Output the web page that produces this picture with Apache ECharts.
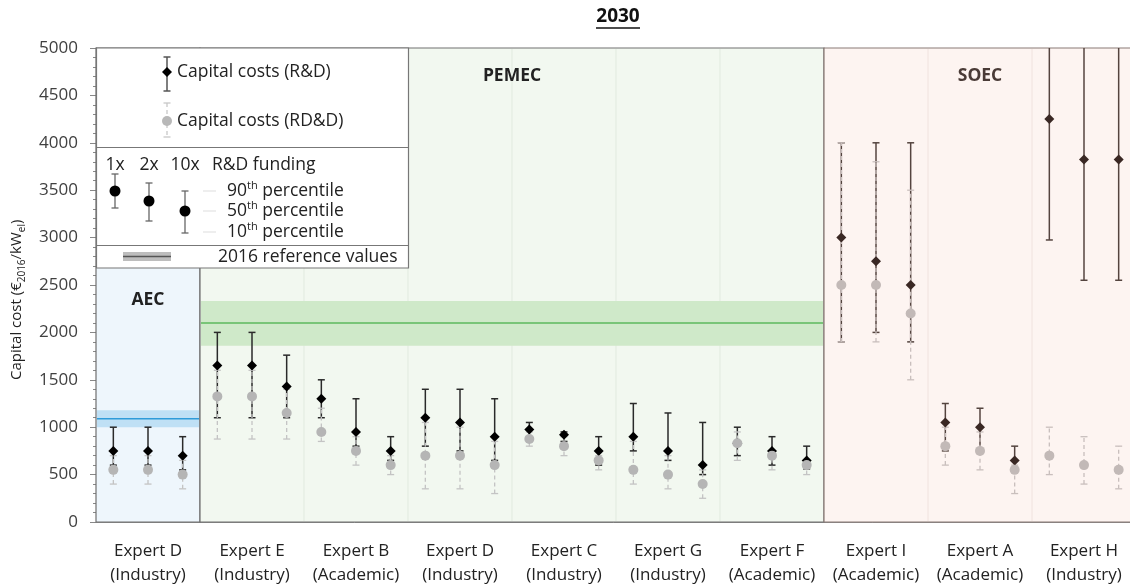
<!DOCTYPE html>
<html><head><meta charset="utf-8">
<script src="https://cdn.jsdelivr.net/npm/echarts@6/dist/echarts.min.js"></script>
<style>html,body{margin:0;padding:0;background:#fff}#chart{width:1130px;height:586px}</style>
</head><body><div id="chart"></div>
<script>
// ---- data ----
const groupLabels = ['Expert D\n(Industry)','Expert E\n(Industry)','Expert B\n(Academic)','Expert D\n(Industry)','Expert C\n(Industry)','Expert G\n(Industry)','Expert F\n(Academic)','Expert I\n(Academic)','Expert A\n(Academic)','Expert H\n(Industry)'];
const fundingLevels = ['1x','2x','10x'];
const regionNames = ['AEC','PEMEC','SOEC'];
const regionFirstGroup = [0,1,7];
const regionLastGroup = [0,6,9];
const refLow = [1000,1860];
const refMid = [1090,2100];
const refHigh = [1180,2330];
const yMin = 0, yMax = 5000, yStep = 500;
// R&D (10th / 50th / 90th percentile)
const rdP10 = [600,600,550, 1100,1100,1100, 1100,800,650, 800,750,650, 900,850,600, 750,650,500, 700,600,560, 1900,2000,1900, 750,750,550, 2975,2550,2550];
const rdP50 = [750,750,700, 1650,1650,1430, 1300,950,750, 1100,1050,900, 975,920,750, 900,750,600, 830,750,650, 3000,2750,2500, 1050,1000,650, 4250,3825,3825];
const rdP90 = [1000,1000,900, 2000,2000,1760, 1500,1300,900, 1400,1400,1300, 1050,950,900, 1250,1150,1050, 1000,900,800, 4000,4000,4000, 1250,1200,800, 5600,5600,5600];
// RD&D (10th / 50th / 90th percentile)
const rddP10 = [400,400,350, 875,875,875, 850,600,500, 350,350,300, 800,700,550, 400,350,250, 650,550,500, 1900,1900,1500, 600,550,300, 500,400,350];
const rddP50 = [550,550,500, 1325,1325,1150, 950,750,600, 700,700,600, 875,800,650, 550,500,400, 830,700,600, 2500,2500,2200, 800,750,550, 700,600,550];
const rddP90 = [700,700,650, 1600,1600,1400, 1200,900,700, 1050,1000,850, 950,900,700, 850,700,550, 950,750,650, 4000,3800,3500, 1000,950,600, 1000,900,800];

// ---- build ----
const pointIds = [];
groupLabels.forEach((g, gi) => fundingLevels.forEach(f => pointIds.push(gi + '-' + f)));
const FONT = '"Open Sans", sans-serif';
const LF = '17.5px ' + FONT;
const isSoec = i => Math.floor(i / 3) >= regionFirstGroup[2];

function whisker(color, soecColor, dash, lw) {
  return function (params, api) {
    const i = api.value(0);
    const lo = api.coord([i, api.value(1)]);
    const hi = api.coord([i, api.value(3)]);
    const c = isSoec(i) ? soecColor : color;
    const cap = 3.5;
    return { type: 'group', children: [
      { type: 'line', shape: { x1: lo[0], y1: lo[1], x2: hi[0], y2: hi[1] }, style: { stroke: c, lineWidth: lw, lineDash: dash } },
      { type: 'line', shape: { x1: lo[0] - cap, y1: lo[1], x2: lo[0] + cap, y2: lo[1] }, style: { stroke: c, lineWidth: lw } },
      { type: 'line', shape: { x1: hi[0] - cap, y1: hi[1], x2: hi[0] + cap, y2: hi[1] }, style: { stroke: c, lineWidth: lw } }
    ]};
  };
}

const regionFill = ['#eef6fc', '#f2f8f0', '#fdf4f1'];
const regionStroke = ['#707070', '#707070', '#8a7a76'];
const regionInner = ['#dde8f0', '#e1eadf', '#f0e2de'];
const regionLabelColor = ['#222', '#222', '#4a3b37'];
const regionLabelVal = [2340, 4700, 4700];

const option = {
  animation: false,
  grid: { left: 96, width: 1040, top: 48, bottom: 64, containLabel: false, outerBoundsMode: 'none' },
  xAxis: [
    { type: 'category', data: pointIds, boundaryGap: true, show: false, position: 'bottom' },
    { type: 'category', data: groupLabels, boundaryGap: true, position: 'bottom',
      axisLine: { show: true, lineStyle: { color: '#888', width: 1 } },
      axisTick: { show: false },
      axisLabel: { fontFamily: FONT, fontSize: 17, color: '#222', lineHeight: 24, margin: 17, interval: 0 } }
  ],
  yAxis: {
    type: 'value', min: yMin, max: yMax, interval: yStep,
    axisLine: { show: true, lineStyle: { color: '#888' } },
    axisTick: { show: true, length: 6, lineStyle: { color: '#888' } },
    minorTick: { show: true, splitNumber: 5, length: 3, lineStyle: { color: '#888' } },
    splitLine: { show: false },
    axisLabel: { fontFamily: FONT, fontSize: 17, color: '#404040', margin: 18, formatter: v => String(v) }
  },
  series: [
    { // technology regions
      type: 'custom', z: 1, silent: true, clip: false,
      encode: { x: 0, y: 2 },
      data: regionNames.map((n, r) => [regionFirstGroup[r] * 3, regionLastGroup[r] * 3 + 2, r]),
      renderItem: function (params, api) {
        const s = api.value(0), e = api.value(1), r = api.value(2);
        const bw = api.size([1, 0])[0];
        const x0 = api.coord([s, yMin])[0] - bw / 2;
        const x1 = api.coord([e, yMin])[0] + bw / 2;
        const yb = api.coord([s, yMin])[1], yt = api.coord([s, yMax])[1];
        const children = [
          { type: 'rect', shape: { x: x0, y: yt, width: x1 - x0, height: yb - yt }, style: { fill: regionFill[r], stroke: regionStroke[r], lineWidth: 1.2 } }
        ];
        for (let g = regionFirstGroup[r] + 1; g <= regionLastGroup[r]; g++) {
          const xg = api.coord([g * 3, yMin])[0] - bw / 2;
          children.push({ type: 'line', shape: { x1: xg, y1: yt + 1, x2: xg, y2: yb - 1 }, style: { stroke: regionInner[r], lineWidth: 1 } });
        }
        const ly = api.coord([s, regionLabelVal[r]])[1];
        children.push({ type: 'text', style: { text: regionNames[r], x: (x0 + x1) / 2, y: ly, align: 'center', verticalAlign: 'middle',
          font: 'bold 17.5px ' + FONT, fill: regionLabelColor[r] } });
        return { type: 'group', children };
      }
    },
    { // 2016 reference values
      type: 'custom', z: 2, silent: true, clip: true,
      encode: { x: 0, y: [2, 3, 4] },
      data: refLow.map((v, r) => [regionFirstGroup[r] * 3, regionLastGroup[r] * 3 + 2, v, refMid[r], refHigh[r], r]),
      renderItem: function (params, api) {
        const s = api.value(0), e = api.value(1), r = api.value(5);
        const bw = api.size([1, 0])[0];
        const x0 = api.coord([s, 0])[0] - bw / 2 + 1;
        const x1 = api.coord([e, 0])[0] + bw / 2 - 1;
        const yl = api.coord([s, api.value(2)])[1];
        const ym = api.coord([s, api.value(3)])[1];
        const yh = api.coord([s, api.value(4)])[1];
        const band = r === 0 ? '#bfe0f5' : '#cfe9c9';
        const line = r === 0 ? '#2f9bd9' : '#5cb85c';
        return { type: 'group', children: [
          { type: 'rect', shape: { x: x0, y: yh, width: x1 - x0, height: yl - yh }, style: { fill: band } },
          { type: 'line', shape: { x1: x0, y1: ym, x2: x1, y2: ym }, style: { stroke: line, lineWidth: 1.5 } }
        ]};
      }
    },
    { name: 'Capital costs (R&D) range', type: 'custom', z: 3, clip: true,
      encode: { x: 0, y: [1, 2, 3] },
      data: rdP10.map((v, i) => [i, v, rdP50[i], rdP90[i]]),
      renderItem: whisker('#2a2a2a', '#54443f', null, 1.5) },
    { name: 'Capital costs (RD&D) range', type: 'custom', z: 4, clip: true,
      encode: { x: 0, y: [1, 2, 3] },
      data: rddP10.map((v, i) => [i, v, rddP50[i], rddP90[i]]),
      renderItem: whisker('#c4c4c4', '#c9bfbd', [4, 3], 1.3) },
    { name: 'Capital costs (R&D)', type: 'scatter', z: 5, symbol: 'diamond', symbolSize: 10,
      data: rdP50.map((v, i) => [i, v]),
      itemStyle: { opacity: 1, color: p => isSoec(p.dataIndex) ? '#3a2824' : '#000' } },
    { name: 'Capital costs (RD&D)', type: 'scatter', z: 6, symbol: 'circle', symbolSize: 10,
      data: rddP50.map((v, i) => [i, v]),
      itemStyle: { opacity: 1, color: p => isSoec(p.dataIndex) ? '#c2b9b7' : '#b5b5b5' } }
  ],
  graphic: { elements: [
    // title
    { type: 'text', z: 100, style: { text: '2030', x: 618, y: 17, align: 'center', verticalAlign: 'middle', font: 'bold 19px ' + FONT, fill: '#111' } },
    { type: 'line', z: 100, shape: { x1: 596, y1: 28, x2: 640, y2: 28 }, style: { stroke: '#111', lineWidth: 1.3 } },
    // y axis title (starts at bottom, reads upward)
    { type: 'text', z: 100, x: 17, y: 380, rotation: Math.PI / 2, style: {
      text: '{a|Capital cost (€}{s|2016}{a|/kW}{s|el}{a|)}', align: 'left', verticalAlign: 'middle',
      rich: { a: { font: '15px ' + FONT, fill: '#222', lineHeight: 20 },
              s: { font: '10px ' + FONT, fill: '#222', lineHeight: 12, verticalAlign: 'bottom' } } } },
    // legend box
    { type: 'rect', z: 100, shape: { x: 96.5, y: 48, width: 312, height: 220 }, style: { fill: '#fff', stroke: '#777', lineWidth: 1.2 } },
    { type: 'line', z: 100, shape: { x1: 96.5, y1: 147.5, x2: 408.5, y2: 147.5 }, style: { stroke: '#777', lineWidth: 1.2 } },
    { type: 'line', z: 100, shape: { x1: 96.5, y1: 245.5, x2: 408.5, y2: 245.5 }, style: { stroke: '#777', lineWidth: 1.2 } },
    // entry R&D
    { type: 'line', z: 101, shape: { x1: 167, y1: 57, x2: 167, y2: 91 }, style: { stroke: '#555', lineWidth: 1.5 } },
    { type: 'line', z: 101, shape: { x1: 163.5, y1: 57, x2: 170.5, y2: 57 }, style: { stroke: '#555', lineWidth: 1.5 } },
    { type: 'line', z: 101, shape: { x1: 163.5, y1: 91, x2: 170.5, y2: 91 }, style: { stroke: '#555', lineWidth: 1.5 } },
    { type: 'polygon', z: 102, shape: { points: [[167, 67], [172, 72], [167, 77], [162, 72]] }, style: { fill: '#000' } },
    { type: 'text', z: 101, style: { text: 'Capital costs (R&D)', x: 177, y: 72, verticalAlign: 'middle', font: LF, fill: '#222' } },
    // entry RD&D
    { type: 'line', z: 101, shape: { x1: 167, y1: 103, x2: 167, y2: 137 }, style: { stroke: '#c8c8c8', lineWidth: 1.3, lineDash: [4, 3] } },
    { type: 'line', z: 101, shape: { x1: 163.5, y1: 103, x2: 170.5, y2: 103 }, style: { stroke: '#c8c8c8', lineWidth: 1.3 } },
    { type: 'line', z: 101, shape: { x1: 163.5, y1: 137, x2: 170.5, y2: 137 }, style: { stroke: '#c8c8c8', lineWidth: 1.3 } },
    { type: 'circle', z: 102, shape: { cx: 167, cy: 121, r: 5 }, style: { fill: '#b8b8b8' } },
    { type: 'text', z: 101, style: { text: 'Capital costs (RD&D)', x: 177, y: 121, verticalAlign: 'middle', font: LF, fill: '#222' } },
    // funding legend
    { type: 'text', z: 101, style: { text: '1x', x: 115, y: 165, align: 'center', verticalAlign: 'middle', font: LF, fill: '#222' } },
    { type: 'text', z: 101, style: { text: '2x', x: 149, y: 165, align: 'center', verticalAlign: 'middle', font: LF, fill: '#222' } },
    { type: 'text', z: 101, style: { text: '10x', x: 185, y: 165, align: 'center', verticalAlign: 'middle', font: LF, fill: '#222' } },
    { type: 'text', z: 101, style: { text: 'R&D funding', x: 212, y: 165, verticalAlign: 'middle', font: LF, fill: '#222' } },
    { type: 'line', z: 101, shape: { x1: 115, y1: 174, x2: 115, y2: 208 }, style: { stroke: '#666', lineWidth: 1.3 } },
    { type: 'line', z: 101, shape: { x1: 111.5, y1: 174, x2: 118.5, y2: 174 }, style: { stroke: '#666', lineWidth: 1.3 } },
    { type: 'line', z: 101, shape: { x1: 111.5, y1: 208, x2: 118.5, y2: 208 }, style: { stroke: '#666', lineWidth: 1.3 } },
    { type: 'circle', z: 102, shape: { cx: 115, cy: 191, r: 5.5 }, style: { fill: '#000' } },
    { type: 'line', z: 101, shape: { x1: 149, y1: 183, x2: 149, y2: 221 }, style: { stroke: '#666', lineWidth: 1.3 } },
    { type: 'line', z: 101, shape: { x1: 145.5, y1: 183, x2: 152.5, y2: 183 }, style: { stroke: '#666', lineWidth: 1.3 } },
    { type: 'line', z: 101, shape: { x1: 145.5, y1: 221, x2: 152.5, y2: 221 }, style: { stroke: '#666', lineWidth: 1.3 } },
    { type: 'circle', z: 102, shape: { cx: 149, cy: 201, r: 5.5 }, style: { fill: '#000' } },
    { type: 'line', z: 101, shape: { x1: 185, y1: 191, x2: 185, y2: 233 }, style: { stroke: '#666', lineWidth: 1.3 } },
    { type: 'line', z: 101, shape: { x1: 181.5, y1: 191, x2: 188.5, y2: 191 }, style: { stroke: '#666', lineWidth: 1.3 } },
    { type: 'line', z: 101, shape: { x1: 181.5, y1: 233, x2: 188.5, y2: 233 }, style: { stroke: '#666', lineWidth: 1.3 } },
    { type: 'circle', z: 102, shape: { cx: 185, cy: 211, r: 5.5 }, style: { fill: '#000' } },
    { type: 'line', z: 101, shape: { x1: 203, y1: 191, x2: 216, y2: 191 }, style: { stroke: '#ddd', lineWidth: 1 } },
    { type: 'line', z: 101, shape: { x1: 203, y1: 211, x2: 216, y2: 211 }, style: { stroke: '#ddd', lineWidth: 1 } },
    { type: 'line', z: 101, shape: { x1: 203, y1: 232, x2: 216, y2: 232 }, style: { stroke: '#ddd', lineWidth: 1 } },
    ...[['90', 191], ['50', 211], ['10', 232]].map(p => ({ type: 'text', z: 101, style: {
      text: '{a|' + p[0] + '}{s|th}{a| percentile}', x: 227, y: p[1], verticalAlign: 'middle',
      rich: { a: { font: LF, fill: '#222', lineHeight: 21 }, s: { font: '11px ' + FONT, fill: '#222', lineHeight: 12, verticalAlign: 'top' } } } })),
    // 2016 reference values
    { type: 'rect', z: 101, shape: { x: 123, y: 252, width: 48, height: 9 }, style: { fill: '#bdbdbd' } },
    { type: 'line', z: 102, shape: { x1: 123, y1: 256.5, x2: 171, y2: 256.5 }, style: { stroke: '#555', lineWidth: 1.5 } },
    { type: 'text', z: 101, style: { text: '2016 reference values', x: 218, y: 257, verticalAlign: 'middle', font: LF, fill: '#222' } }
  ]}
};
const chart = echarts.init(document.getElementById('chart'));
chart.setOption(option);
</script></body></html>
